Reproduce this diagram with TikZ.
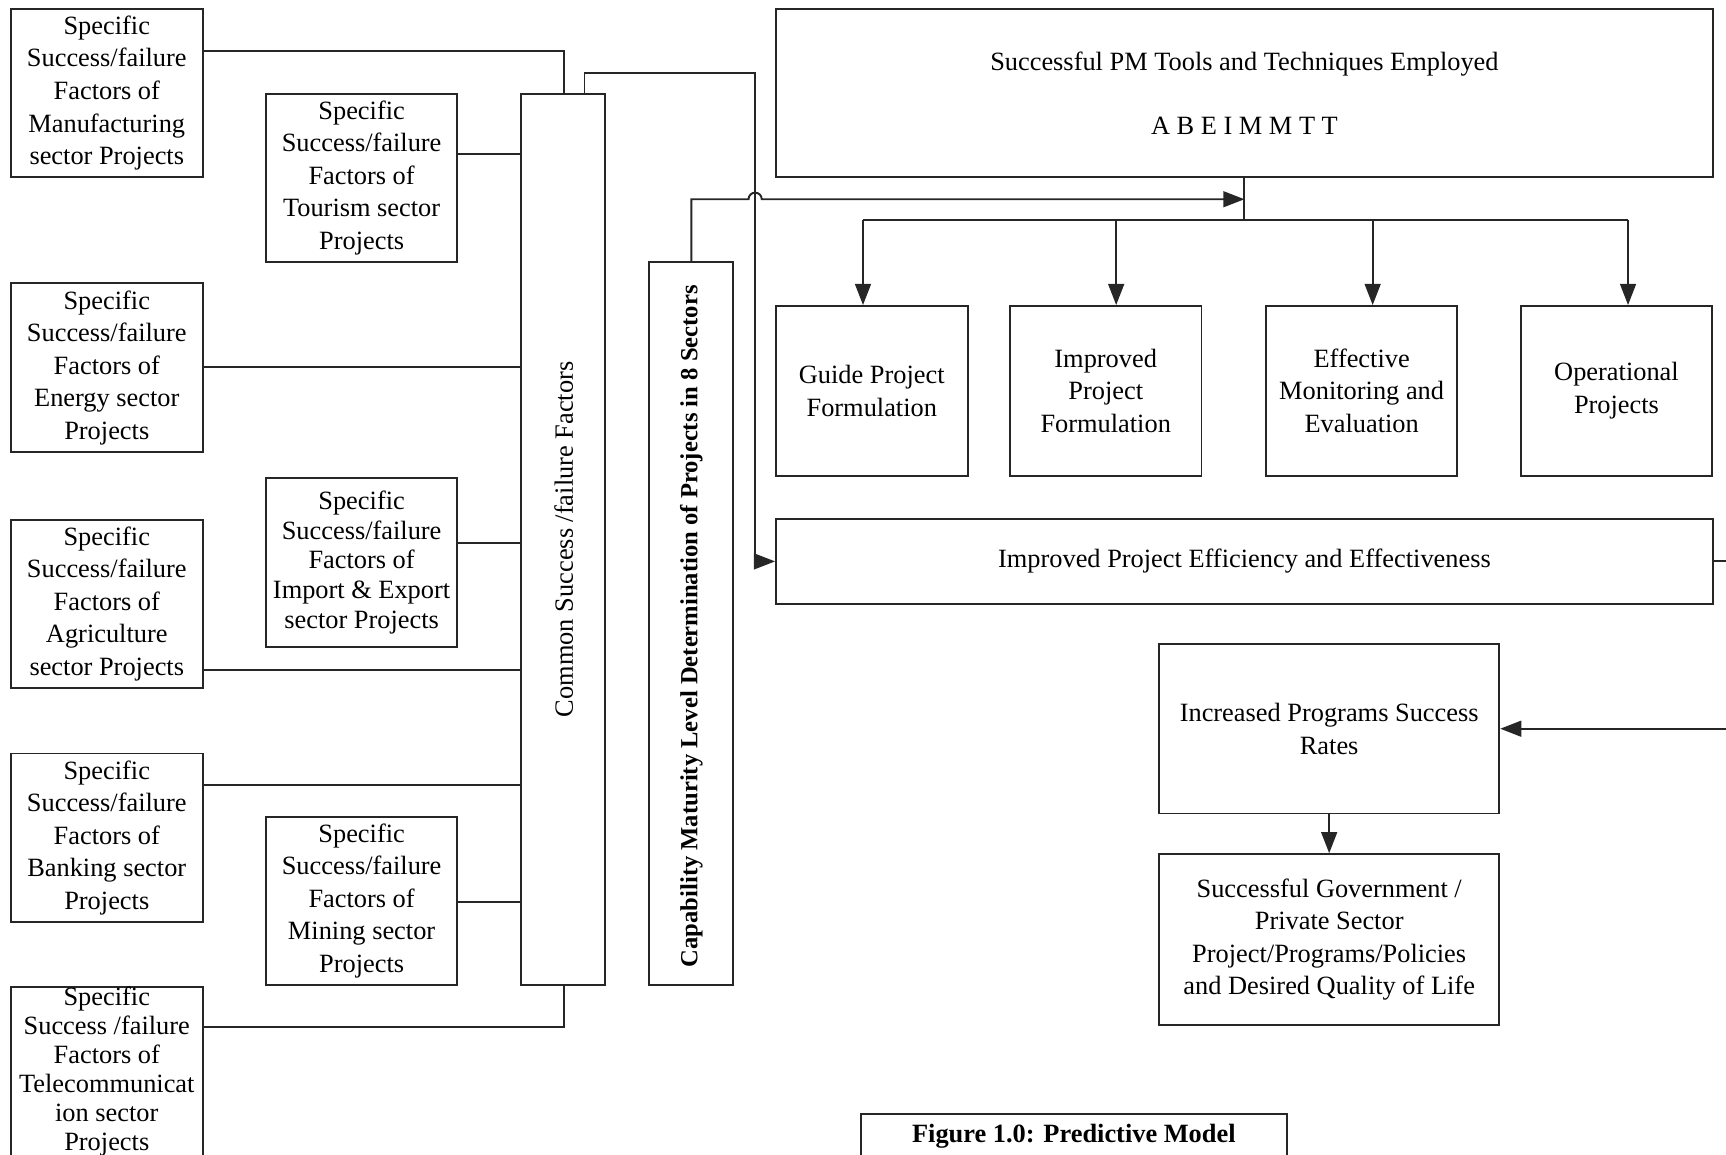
\documentclass[tikz,border=0pt]{standalone}
\usepackage{fontspec}
\setmainfont{Liberation Serif}
\usetikzlibrary{arrows.meta}

\begin{document}
\begin{tikzpicture}[x=0.022cm, y=-0.022cm,
  box/.style={draw=black!85, line width=1.1pt, align=center, inner sep=2pt,
    font=\fontsize{15}{18.5}\selectfont},
  link/.style={draw=black!85, line width=1.1pt},
  arr/.style={link, -{Triangle[length=12pt,width=9pt]}}]

\def\px{0.022cm}
\useasboundingbox (0,0) rectangle (1568,1049);

% sector boxes
\foreach \n/\y/\t in {manu/84.5/{Manufacturing\\sector Projects},
                      ener/334/{Energy sector\\Projects},
                      agri/548.5/{Agriculture\\sector Projects},
                      bank/761/{Banking sector\\Projects}}
  \node[box, minimum width=174*\px, minimum height=153*\px] (\n) at (97,\y)
    {Specific\\Success/failure\\Factors of\\\t};

\foreach \n/\y/\t in {tour/161.5/{Tourism sector\\Projects},
                      mine/818.5/{Mining sector\\Projects}}
  \node[box, minimum width=174*\px, minimum height=153*\px] (\n) at (328.5,\y)
    {Specific\\Success/failure\\Factors of\\\t};

\node[box, minimum width=174*\px, minimum height=154*\px,
  font=\fontsize{15}{17}\selectfont] (impex) at (328.5,511)
  {Specific\\Success/failure\\Factors of\\Import \& Export\\sector Projects};

\node[box, anchor=north, minimum width=174*\px, inner ysep=0pt,
  font=\fontsize{15}{16.5}\selectfont] (tele) at (97,896)
  {Specific\\Success /failure\\Factors of\\Telecommunicat\\ion sector\\Projects};

% vertical bars
\node[box, minimum width=77*\px, minimum height=810*\px] (comm) at (511.5,490) {};
\node[rotate=90, font=\fontsize{15}{18}\selectfont] (commtxt) at (512,490)
  {Common Success /failure Factors};

\node[box, minimum width=76*\px, minimum height=657*\px] (cap) at (628,566.5) {};
\node[rotate=90, font=\bfseries\fontsize{14}{16}\selectfont] (captxt) at (628,569)
  {Capability Maturity Level Determination of Projects in 8 Sectors};

% right side
\node[box, minimum width=851*\px, minimum height=153*\px] (pm) at (1130.5,84.5)
  {Successful PM Tools and Techniques Employed\\[18pt]A B E I M M T T};

\foreach \n/\x/\t in {guide/792/{Guide Project\\Formulation},
                      impr/1004.5/{Improved\\Project\\Formulation},
                      effe/1237/{Effective\\Monitoring and\\Evaluation},
                      oper/1468.5/{Operational\\Projects}}
  \node[box, minimum width=174*\px, minimum height=154*\px] (\n) at (\x,355) {\t};

\node[box, minimum width=851*\px, minimum height=77*\px] (effy) at (1130.5,510)
  {Improved Project Efficiency and Effectiveness};

\node[box, minimum width=309*\px, minimum height=154*\px] (incr) at (1207.5,662)
  {Increased Programs Success\\Rates};
\node[box, minimum width=309*\px, minimum height=155*\px] (succ) at (1207.5,853.5)
  {Successful Government /\\Private Sector\\Project/Programs/Policies\\and Desired Quality of Life};

\node[box, anchor=north, minimum width=387*\px, inner ysep=6pt, text depth=10pt,
  font=\bfseries\fontsize{15}{18}\selectfont] (fig) at (975.5,1011)
  {Figure 1.0: Predictive Model};

% connectors
\draw[link] (manu.east |- 0,46) -| (comm.north -| 512,0);
\foreach \n/\y in {tour/140, ener/333, impex/493, agri/609, bank/713, mine/819}
  \draw[link] (\n.east |- 0,\y) -- (comm.west |- 0,\y);
\draw[link] (tele.east |- 0,933) -| (comm.south -| 512,0);

\draw[arr] (comm.north -| 531,0) |- (686,66) |- (effy.west);
\draw[arr] (cap.north) |- (680,181) arc[start angle=180, end angle=360, radius=6]
  -- (pm.south |- 0,181);

\coordinate (split) at (pm.south |- 0,200);
\draw[link] (pm.south) -- (split);
\draw[link] (784,200) -- (1479,200);
\foreach \n/\x in {guide/784, impr/1014, effe/1247, oper/1479}
  \draw[arr] (\x,200) -- (\n.north -| \x,0);

\draw[arr] (effy.east) -- (1590,510) |- (incr.east);
\draw[arr] (incr.south) -- (succ.north);

\end{tikzpicture}
\end{document}
